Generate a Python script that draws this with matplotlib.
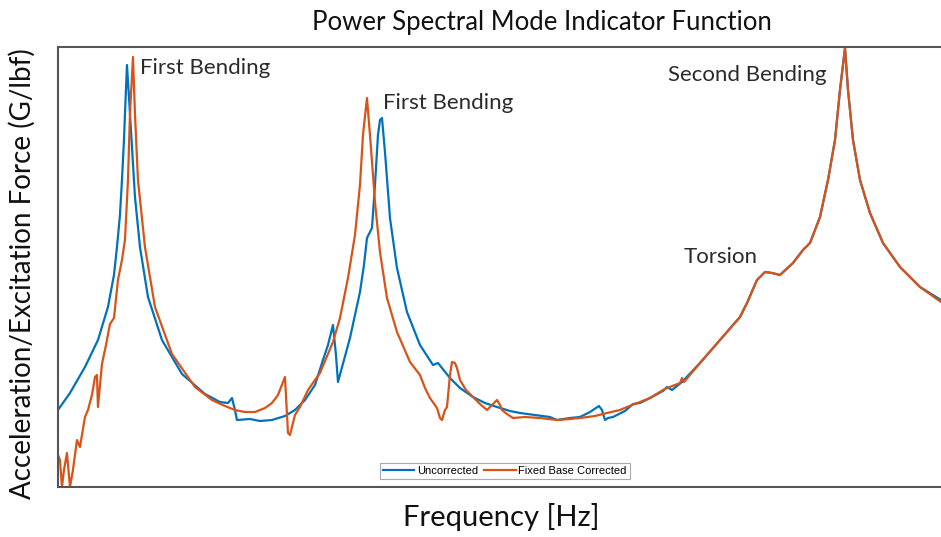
import numpy as np
import matplotlib.pyplot as plt

# readings (frequency and amplitude in arbitrary units, no ticks shown)
freq_unc = [0, 12, 27, 40, 50, 56, 59, 62, 64, 66, 67, 69, 71, 74, 77, 82, 90, 104, 124, 147, 162, 170,
            174, 177, 179, 192, 202, 214, 227, 237, 247, 257, 265, 270, 275, 278, 280, 286, 292, 297,
            302, 306, 309, 312, 314, 317, 320, 322, 324, 327, 332, 339, 349, 362, 375, 380, 392, 402,
            415, 427, 439, 452, 462, 477, 492, 499, 512, 522, 532, 538, 541, 544, 547, 550, 555, 567,
            575, 582, 592, 605, 609, 614, 624, 642, 662, 682, 689, 699, 707, 714, 722, 735, 745, 752,
            762, 770, 777, 782, 787, 790, 795, 802, 812, 825, 842, 862, 883]
amp_unc = [77, 94, 120, 147, 180, 212, 240, 272, 307, 347, 373, 422, 390, 340, 290, 240, 190, 147, 113, 93, 85, 84,
           89, 77, 67, 68, 66, 67, 71, 77, 87, 102, 127, 142, 162, 132, 105, 127, 149, 172,
           195, 222, 249, 255, 259, 302, 352, 367, 369, 335, 269, 219, 175, 142, 122, 124, 109, 99,
           90, 84, 80, 76, 74, 72, 70, 67, 69, 70, 75, 79, 81, 77, 67, 69, 70, 76,
           83, 84, 89, 96, 100, 97, 105, 124, 147, 170, 184, 207, 215, 214, 212, 224, 237, 244,
           270, 307, 347, 397, 439, 397, 347, 307, 274, 244, 220, 200, 187]

freq_fix = [0, 2, 4, 6, 9, 12, 15, 19, 22, 27, 30, 34, 37, 39, 40, 44, 48, 52, 56, 60, 64, 67, 70, 72,
            75, 77, 80, 87, 97, 114, 137, 154, 167, 177, 187, 197, 207, 214, 220, 227, 230, 232, 237,
            242, 250, 262, 275, 282, 290, 297, 302, 305, 309, 312, 317, 322, 329, 339, 352, 362, 367,
            372, 379, 382, 384, 387, 389, 392, 394, 397, 399, 402, 408, 415, 422, 429, 435, 439, 442,
            444, 449, 455, 467, 482, 499, 512, 522, 537, 549, 562, 569, 582, 592, 605, 609, 617, 622,
            624, 626, 642, 662, 682, 689, 699, 707, 714, 722, 735, 745, 752, 762, 770, 777, 782, 787,
            790, 795, 802, 812, 825, 842, 862, 883]
amp_fix = [32, 27, 0, 17, 34, 0, 17, 47, 40, 70, 77, 92, 110, 112, 80, 123, 142, 163, 169, 207, 227, 247, 307, 373,
           430, 373, 307, 240, 180, 133, 100, 87, 81, 77, 75, 75, 79, 84, 92, 110, 54, 52, 72,
           80, 97, 114, 145, 169, 209, 252, 302, 352, 389, 352, 285, 235, 189, 155, 125, 112, 99,
           89, 79, 69, 67, 77, 80, 112, 125, 124, 119, 107, 97, 90, 83, 77, 83, 87, 82,
           77, 73, 69, 70, 69, 67, 68, 69, 71, 74, 77, 80, 85, 89, 97, 99, 102, 104,
           109, 105, 124, 147, 170, 184, 207, 215, 214, 212, 224, 237, 244, 270, 307, 347, 397, 439,
           397, 347, 307, 274, 244, 220, 200, 185]

labels = ["Uncorrected", "Fixed Base Corrected"]
annotations = [("First Bending", 82, 419), ("First Bending", 325, 384),
               ("Second Bending", 610, 412), ("Torsion", 626, 230)]

plt.rcParams['font.family'] = ['Lato', 'DejaVu Sans']

fig = plt.figure(figsize=(9.41, 5.37), dpi=100)
ax = fig.add_axes([0.0616, 0.0931, 0.9384, 0.8194])

ax.plot(freq_unc, amp_unc, color='#0072BD', lw=1.6, label=labels[0])
ax.plot(freq_fix, amp_fix, color='#D95319', lw=1.6, label=labels[1])

ax.set_xlim(0, 883)
ax.set_ylim(0, 440)
ax.set_xticks([])
ax.set_yticks([])
ax.spines['right'].set_visible(False)
for s in ['left', 'top', 'bottom']:
    ax.spines[s].set_color('#555555')
    ax.spines[s].set_linewidth(1.5)

for txt, x, y in annotations:
    ax.text(x, y, txt, fontsize=16, color='#2b2b2b', va='center', ha='left')

fig.text(0.576, 0.958, "Power Spectral Mode Indicator Function", fontsize=18.5, ha='center', va='center',
         color='#111111')
fig.text(0.533, 0.037, "Frequency [Hz]", fontsize=21, ha='center', va='center', color='#111111')
fig.text(0.024, 0.49, "Acceleration/Excitation Force (G/lbf)", fontsize=20, ha='center', va='center',
         rotation=90, color='#111111')

leg = ax.legend(loc='center', bbox_to_anchor=(0.506, 0.036), ncol=2,
                prop={'family': 'Liberation Sans', 'size': 8},
                handlelength=2.8, columnspacing=0.6, handletextpad=0.2, borderpad=0.3,
                fancybox=False, edgecolor='#aaaaaa', framealpha=1)
leg.get_frame().set_linewidth(0.8)

fig.savefig('out.png', dpi=100)
